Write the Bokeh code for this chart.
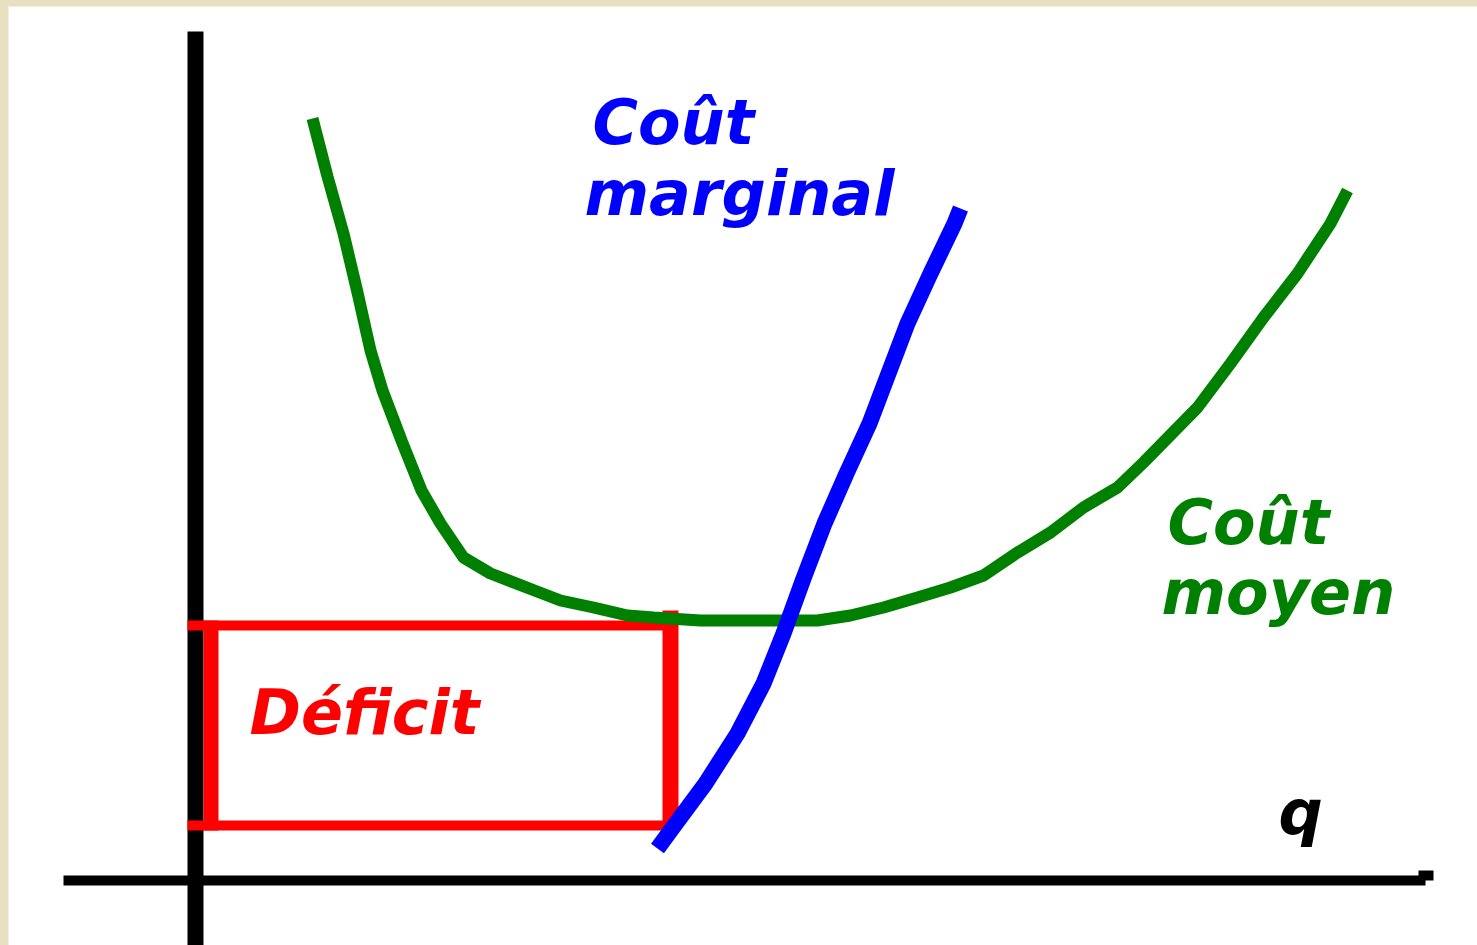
from bokeh.plotting import figure
from bokeh.models import Range1d, ColumnDataSource
from bokeh.embed import file_html
from bokeh.resources import INLINE
from bokeh.core.properties import value

# ---- data (quantity q, cost c) ----
avg_cost_q = [11.7, 13.2, 14.8, 16.2, 17.5, 18.7, 20.6, 22.6, 24.5, 26.8, 29.5, 33.9, 36.5, 39.8,
              43.2, 45.8, 50.5, 53.8, 62.2, 65.5, 68.8, 72.2, 75.5, 78.8, 82.2, 85.5,
              88.8, 92.2, 94.8, 100.2, 103.5, 106.8, 110.2, 113.5, 115.2]
avg_cost_c = [76.2, 70.4, 64.7, 58.8, 53.0, 49.0, 44.0, 39.0, 35.7, 32.3, 30.7, 29.0, 28.0, 27.3,
              26.5, 26.3, 26.0, 26.0, 26.0, 26.5, 27.3, 28.3, 29.3, 30.5, 32.8, 34.8,
              37.3, 39.3, 41.8, 47.3, 51.7, 56.3, 60.7, 65.7, 69.0]

marg_cost_q = [46.2, 47.3, 51.0, 54.2, 56.8, 58.8, 60.8, 62.9, 65.1, 67.4, 69.3, 71.2, 73.5, 75.9, 76.5]
marg_cost_c = [3.2, 4.7, 9.7, 14.7, 19.7, 24.7, 30.2, 35.7, 40.7, 45.7, 50.7, 55.7, 60.7, 65.7, 67.2]

q_star = 47.5        # quantity where the deficit box ends
price = 5.5          # price level (bottom of the deficit box)
avg_cost_at_q = 25.5 # average cost level (top of the deficit box)

label_text = ["Coût", "marginal", "Coût", "moyen", "Déficit", "q"]
label_q = [39.7, 38.9, 97.2, 96.6, 5.4, 108.3]
label_c = [75.8, 68.7, 35.8, 28.8, 16.8, 6.8]
label_color = ["#0000ff", "#0000ff", "#008000", "#008000", "#ff0000", "#000000"]

axis_q_min, axis_q_max = -13.2, 123.0
axis_c_min, axis_c_max = -7.0, 84.9

# ---- figure ----
p = figure(width=1469, height=939,
           x_range=Range1d(-18.7, 128.2), y_range=Range1d(-6.5, 87.4),
           output_backend="svg", toolbar_location=None, min_border=0)
p.axis.visible = False
p.grid.visible = False
p.outline_line_color = None
p.background_fill_color = "white"
p.border_fill_color = "white"

# axes
p.segment(x0=[0], y0=[axis_c_min], x1=[0], y1=[axis_c_max], line_color="black", line_width=16)
p.segment(x0=[axis_q_min], y0=[0], x1=[axis_q_max], y1=[0], line_color="black", line_width=10)
p.segment(x0=[axis_q_max - 0.7], y0=[0.5], x1=[axis_q_max + 0.8], y1=[0.5], line_color="black", line_width=10)

# deficit box
p.segment(x0=[-0.8, -0.8], y0=[avg_cost_at_q, price], x1=[q_star, q_star + 0.8], y1=[avg_cost_at_q, price],
          line_color="#ff0000", line_width=10)
p.segment(x0=[1.55], y0=[price - 0.5], x1=[1.55], y1=[avg_cost_at_q + 0.5],
          line_color="#ff0000", line_width=15)
p.segment(x0=[q_star], y0=[price - 0.5], x1=[q_star], y1=[avg_cost_at_q + 1.5],
          line_color="#ff0000", line_width=16)

# curves
p.line(avg_cost_q, avg_cost_c, line_color="#008000", line_width=12)
p.line(marg_cost_q, marg_cost_c, line_color="#0000ff", line_width=16)

# labels
src = ColumnDataSource(dict(x=label_q, y=label_c, text=label_text, color=label_color))
p.text(x="x", y="y", text="text", source=src, text_color="color",
       text_font=value("DejaVu Sans"), text_font_style="bold italic",
       text_font_size="62px", text_baseline="alphabetic", text_align="left")

html = file_html(p, INLINE)
html = html.replace("</head>",
                    "<style>html,body{margin:0;padding:0;overflow:hidden;background:#e6dfc0;}"
                    "body{padding:6px 0 0 8px;}</style></head>", 1)
open("out.html", "w").write(html)
